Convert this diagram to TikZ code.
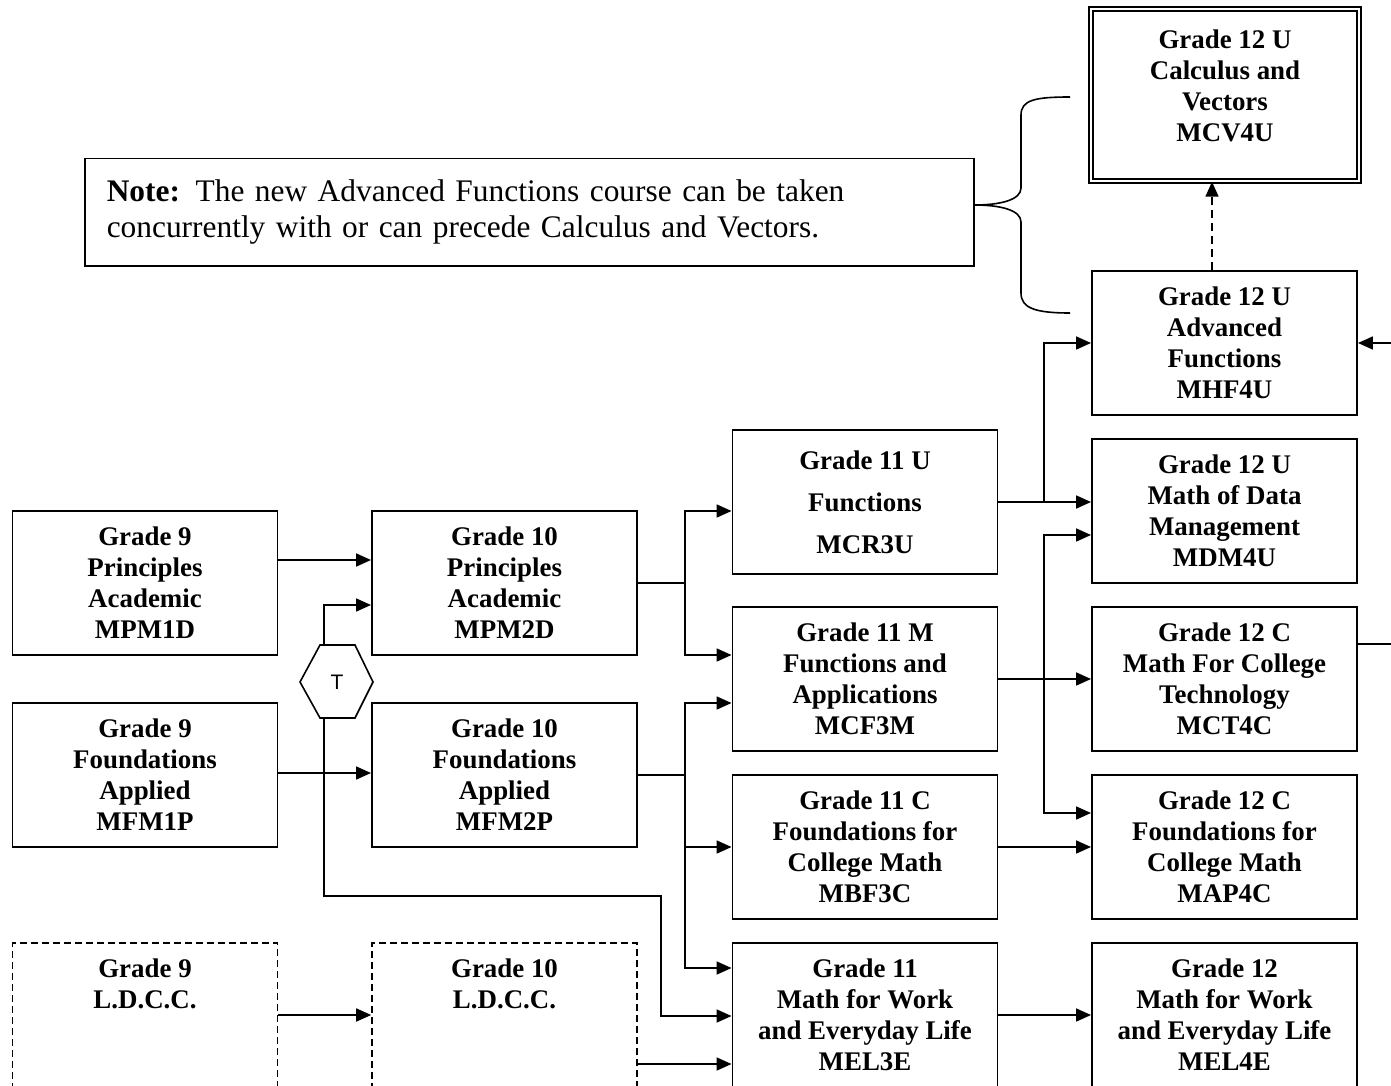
\documentclass[tikz,border=0pt]{standalone}
\usepackage{fontspec}
\setmainfont{Liberation Serif}
\newfontfamily\sansT{Liberation Sans}
\usetikzlibrary{arrows.meta,calc}
\newcommand\bxfont{\fontsize{26.9}{31}\selectfont\bfseries}
\begin{document}
\begin{tikzpicture}[x=1pt,y=-1pt,
  box/.style={draw, line width=1.9pt, minimum width=265pt, minimum height=144pt, inner sep=0pt, align=center, font=\bxfont},
  dbox/.style={box, line width=1.6pt, dash pattern=on 7pt off 4pt},
  ln/.style={line width=1.7pt},
  arr/.style={line width=1.7pt, -{Triangle[length=15pt,width=13pt]}}]
\useasboundingbox (0,0) rectangle (1391,1086);
\clip (0,0) rectangle (1391,1086);

% Grade 9
\node[box] (mpm1d) at (145,583) {Grade 9\\Principles\\Academic\\MPM1D};
\node[box] (mfm1p) at (145,775) {Grade 9\\Foundations\\Applied\\MFM1P};
\node[dbox] (ldcc9) at (145,1015) {Grade 9\\L.D.C.C.\\\mbox{}\\\mbox{}};
% Grade 10
\node[box] (mpm2d) at (504.5,583) {Grade 10\\Principles\\Academic\\MPM2D};
\node[box] (mfm2p) at (504.5,775) {Grade 10\\Foundations\\Applied\\MFM2P};
\node[dbox] (ldcc10) at (504.5,1015) {Grade 10\\L.D.C.C.\\\mbox{}\\\mbox{}};
% Grade 11
\node[box] (mcr3u) at (865,502) {Grade 11 U\\[11pt]Functions\\[11pt]MCR3U};
\node[box] (mcf3m) at (865,679) {Grade 11 M\\Functions and\\Applications\\MCF3M};
\node[box] (mbf3c) at (865,847) {Grade 11 C\\Foundations for\\College Math\\MBF3C};
\node[box] (mel3e) at (865,1015) {Grade 11\\Math for Work\\and Everyday Life\\MEL3E};
% Grade 12
\node[box, line width=1.5pt, double=white, double distance=2.2pt, minimum width=268pt, minimum height=172pt] (mcv4u) at (1225,95) {Grade 12 U\\Calculus and\\Vectors\\MCV4U\\[-12pt]\mbox{}};
\node[box] (mhf4u) at (1224.5,343) {Grade 12 U\\Advanced\\Functions\\MHF4U};
\node[box] (mdm4u) at (1224.5,511) {Grade 12 U\\Math of Data\\Management\\MDM4U};
\node[box] (mct4c) at (1224.5,679) {Grade 12 C\\Math For College\\Technology\\MCT4C};
\node[box] (map4c) at (1224.5,847) {Grade 12 C\\Foundations for\\College Math\\MAP4C};
\node[box] (mel4e) at (1224.5,1015) {Grade 12\\Math for Work\\and Everyday Life\\MEL4E};

% Note
\node[draw, line width=1.5pt, anchor=north west, minimum height=107pt, text width=845pt, inner xsep=22pt, inner ysep=0pt, align=left, font=\fontsize{31.4}{36}\selectfont] (note) at (84,158) {\textbf{Note:}\hspace{0.5em}The new Advanced Functions course can be taken\\concurrently with or can precede Calculus and Vectors.};

% brace
\draw[line width=1.6pt] (1070,97) .. controls (1035,97) and (1021,100) .. (1021,115) -- (1021,188) .. controls (1021,200) and (1000,205) .. (note.east |- 0,205)
  .. controls (1000,205) and (1021,210) .. (1021,222) -- (1021,293) .. controls (1021,308) and (1035,313) .. (1070,313);

% T hexagon
\draw[line width=1.6pt] (320,645) -- (355,645) -- (373,682) -- (355,718) -- (320,718) -- (300,682) -- cycle;
\node[font=\sansT\fontsize{21}{24}\selectfont, inner sep=0pt] (T) at (337,682) {T};
\coordinate (hextop) at (324,645);
\coordinate (hexbot) at (324,718);

% Grade 9 -> 10
\draw[arr] (mpm1d.east |- 0,560) -- (mpm2d.west |- 0,560);
\draw[arr] (mfm1p.east |- 0,773) -- (mfm2p.west |- 0,773);
\draw[arr] (ldcc9.east) -- (ldcc10.west);
\draw[arr] (hextop) |- (mpm2d.west |- 0,605);
\draw[arr] (hexbot) |- (661,896) |- (mel3e.west |- 0,1016);

% Grade 10 -> 11
\coordinate (j1) at (685,583);
\coordinate (j2) at (685,775);
\draw[ln] (mpm2d.east) -- (j1);
\draw[arr] (j1) |- (mcr3u.west |- 0,511);
\draw[arr] (j1) |- (mcf3m.west |- 0,655);
\draw[ln] (mfm2p.east) -- (j2);
\draw[arr] (j2) |- (mcf3m.west |- 0,703);
\draw[arr] (j2) |- (mbf3c.west);
\draw[arr] (j2) |- (mel3e.west |- 0,968);
\draw[arr] (ldcc10.east |- 0,1064) -- (mel3e.west |- 0,1064);

% Grade 11 -> 12
\coordinate (j3) at (1044,502);
\coordinate (j4) at (1044,679);
\draw[arr] (mcr3u.east) -- (mdm4u.west |- mcr3u.east);
\draw[arr] (j3) |- (mhf4u.west);
\draw[arr] (mcf3m.east) -- (mct4c.west);
\draw[arr] (j4) |- (mdm4u.west |- 0,535);
\draw[arr] (j4) |- (map4c.west |- 0,813);
\draw[arr] (mbf3c.east) -- (map4c.west);
\draw[arr] (mel3e.east) -- (mel4e.west);

% Grade 12
\draw[arr, line width=1.6pt, dash pattern=on 8pt off 5pt] (mhf4u.north -| 1212,0) -- (mcv4u.south -| 1212,0);
\draw[arr] (mct4c.east |- 0,644) -- (1430,644) |- (mhf4u.east);
\end{tikzpicture}
\end{document}
